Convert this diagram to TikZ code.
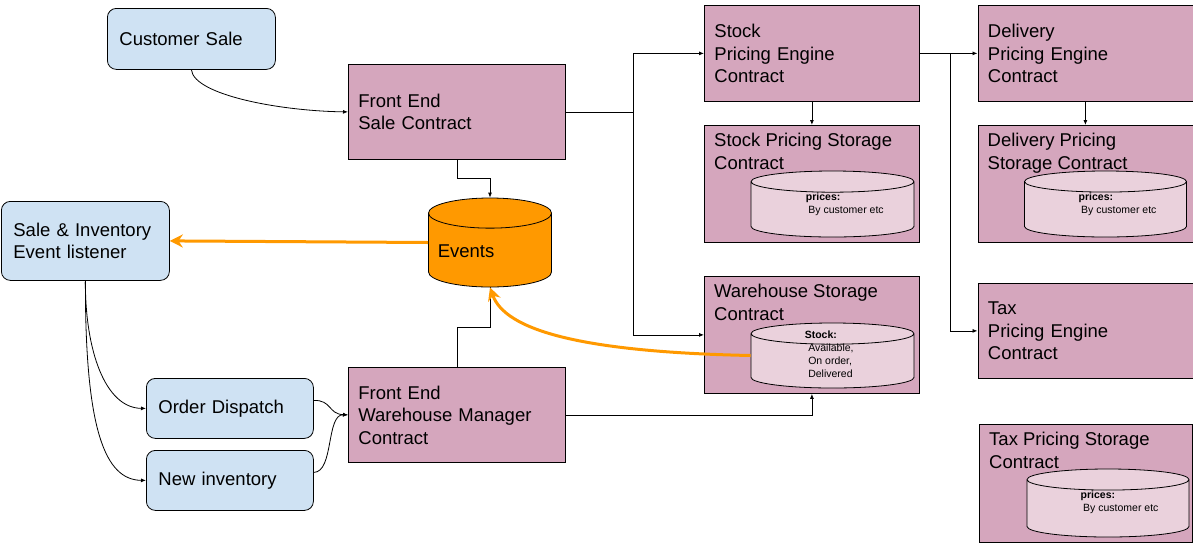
\documentclass[tikz,border=0pt]{standalone}
\usepackage{fontspec}
\setmainfont{Liberation Sans}
\usetikzlibrary{shapes.geometric,arrows.meta}
\definecolor{lblue}{HTML}{CFE2F3}
\definecolor{lpink}{HTML}{D5A6BD}
\definecolor{llpink}{HTML}{EAD1DC}
\definecolor{evorange}{HTML}{FF9900}
\tikzset{
  bigfont/.style={font=\fontsize{18.5}{22.5}\selectfont},
  smallfont/.style={font=\fontsize{10.5}{13}\selectfont},
  bluebox/.style={draw, line width=0.8pt, fill=lblue, rounded corners=9pt, anchor=north west, align=left, inner xsep=12pt, text width=144pt, bigfont},
  pinkbox/.style={draw, line width=0.8pt, fill=lpink, anchor=north west, align=left, inner xsep=10pt, text width=#1, bigfont},
  pinkbox/.default=195pt,
  store/.style={pinkbox, minimum height=117pt},
  boxtitle/.style={anchor=north west, align=left, inner xsep=10pt, inner ysep=8pt, bigfont},
  db/.style={draw, line width=0.8pt, fill=llpink, cylinder, shape border rotate=90, aspect=0.13, inner sep=0pt, text width=163pt, minimum height=66pt, anchor=shape center},
  dbtext/.style={anchor=west, align=left, inner sep=0pt, smallfont},
  arr/.style={line width=0.8pt, -{Latex[length=5pt,width=4pt]}},
  link/.style={line width=0.8pt},
  evarr/.style={evorange, line width=3pt, -{Stealth[length=13pt,width=13pt]}}
}

\begin{document}
\begin{tikzpicture}[x=1pt, y=-1pt]
  \useasboundingbox (0,0) rectangle (1193,547);
  % left side: listeners and front ends
  \node[bluebox, minimum height=61pt] (cs) at (107,8) {Customer Sale};
  \node[pinkbox=197pt, minimum height=95pt] (fes) at (348,64) {Front End\\Sale Contract};
  \node[bluebox, minimum height=79pt] (sil) at (1,201) {Sale \& Inventory\\Event listener};
  \node[bluebox, text width=143pt, minimum height=60pt] (od) at (146,378) {Order Dispatch};
  \node[bluebox, text width=143pt, minimum height=60pt] (ni) at (146,450) {New inventory};
  \node[pinkbox=197pt, minimum height=95pt] (few) at (348,367) {Front End\\Warehouse Manager\\Contract};
  % events store
  \node[draw, line width=0.8pt, fill=evorange, cylinder, shape border rotate=90, aspect=0.245,
        inner sep=0pt, text width=123pt, minimum height=89pt, anchor=shape center] (ev) at (490,242.5) {};
  \node[bigfont, anchor=west, inner sep=0pt] (evt) at (437.6,251) {Events};
  % pricing engines
  \node[pinkbox, minimum height=96pt] (spe) at (704,5) {Stock\\Pricing Engine\\Contract};
  \node[pinkbox, minimum height=96pt] (dpe) at (977.5,5) {Delivery\\Pricing Engine\\Contract};
  \node[pinkbox, minimum height=95pt] (tpe) at (977.5,283) {Tax\\Pricing Engine\\Contract};
  % storage contracts
  \node[store, label={[boxtitle]north west:Stock Pricing Storage\\Contract}] (sps) at (704,125) {};
  \node[store, label={[boxtitle]north west:Delivery Pricing\\Storage Contract}] (dps) at (977.5,125) {};
  \node[store, label={[boxtitle]north west:Warehouse Storage\\Contract}] (wse) at (704,276) {};
  \node[store, text width=193pt, minimum height=118pt, label={[boxtitle]north west:Tax Pricing Storage\\Contract}] (tps) at (979,424) {};
  % databases inside storage
  \node[db] (spc) at (832.5,204) {};
  \node[dbtext] (spt) at (805.7,204) {\textbf{prices:}\\\hspace*{2.5pt}By customer etc};
  \node[db, text width=162pt] (dpc) at (1105.5,204) {};
  \node[dbtext] (dpt) at (1078.5,204) {\textbf{prices:}\\\hspace*{2.5pt}By customer etc};
  \node[db, minimum height=65pt] (wsc) at (832.5,355.5) {};
  \node[dbtext] (wst) at (804.6,354.5) {\textbf{Stock:}\\\hspace*{3.5pt}Available,\\\hspace*{3.5pt}On order,\\\hspace*{3.5pt}Delivered};
  \node[db, text width=162pt, minimum height=68pt] (tpc) at (1108,503) {};
  \node[dbtext] (tpt) at (1080.5,502.5) {\textbf{prices:}\\\hspace*{2.5pt}By customer etc};
  % connectors
  \draw[arr] (cs.south) .. controls (194,95) and (280,111) .. (fes.west);
  \draw[arr] (fes.south) -- ++(0,19) -| (ev.north);
  \draw[link] (few.north) -- ++(0,-40) -| (ev.south);
  \draw[link] (fes.east) -- ++(68,0) coordinate (fork);
  \draw[arr] (fork) |- (spe.west);
  \draw[arr] (fork) |- (wse.west);
  \draw[link] (spe.east) -- ++(31,0) coordinate (fork2);
  \draw[arr] (fork2) -- (dpe.west);
  \draw[arr] (fork2) |- (tpe.west);
  \draw[arr] (spe.south) -- (sps.north);
  \draw[arr] (dpe.south) -- (dps.north);
  \draw[arr] (few.east) -| (wse.south);
  \draw[arr] (sil.south) .. controls (85,350) and (105,408) .. (od.west);
  \draw[arr] (sil.south) .. controls (85,430) and (105,480) .. (ni.west);
  \draw[arr] ([yshift=8pt]od.east) .. controls (332,400) and (328,414) .. (few.west);
  \draw[arr] ([yshift=8pt]ni.east) .. controls (334,472) and (326,414) .. (few.west);
  % event flows
  \draw[evarr] (ev.west |- ev.shape center) -- (sil.east);
  \draw[evarr] (wsc.west |- wsc.shape center) .. controls (580,352) and (505,330) .. (ev.south);
\end{tikzpicture}
\end{document}
